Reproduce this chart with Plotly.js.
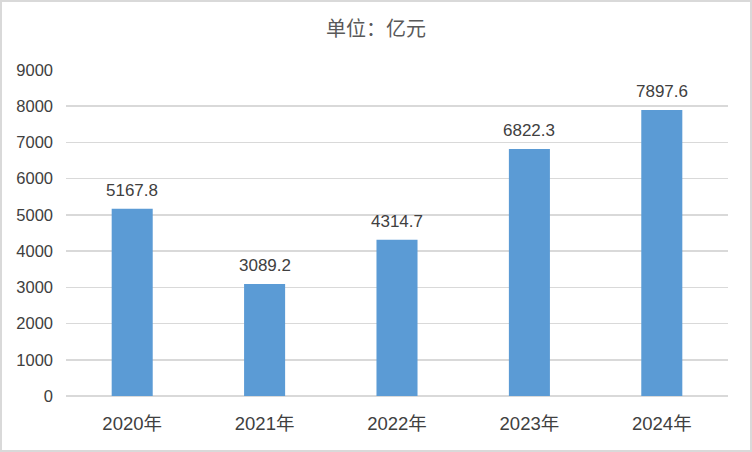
<!DOCTYPE html>
<html>
<head>
<meta charset="utf-8">
<script src="https://cdn.plot.ly/plotly-3.0.1.min.js"></script>
<style>
html,body{margin:0;padding:0;background:#fff;}
#chart{width:752px;height:452px;box-sizing:border-box;border:2px solid #d9d9d9;}
</style>
</head>
<body>
<div id="chart"></div>
<script>
const categories = ["2020年", "2021年", "2022年", "2023年", "2024年"];
const values = [5167.8, 3089.2, 4314.7, 6822.3, 7897.6];
const yTicks = [0, 1000, 2000, 3000, 4000, 5000, 6000, 7000, 8000, 9000];
const titleText = "单位：亿元";

const fontFam = "Liberation Sans, Arial, Noto Sans CJK SC, sans-serif";
const cjkFam = "Noto Sans CJK SC, sans-serif";
const textColor = "#404040";

const trace = {
  type: "bar",
  x: categories,
  y: values,
  marker: {color: "#5b9bd5"},
  hoverinfo: "none"
};

const annotations = categories.map((c, i) => ({
  x: c, y: values[i], xref: "x", yref: "y",
  text: values[i].toFixed(1),
  showarrow: false, yanchor: "bottom", yshift: 7,
  font: {family: fontFam, size: 17, color: textColor}
}));

const layout = {
  width: 748, height: 448,
  margin: {l: 64, r: 22, t: 68, b: 54},
  paper_bgcolor: "#fff", plot_bgcolor: "#fff",
  title: {text: titleText, x: 0.5, xanchor: "center", y: 0.94, yanchor: "middle",
          font: {family: cjkFam, size: 20, color: "#595959"}},
  bargap: 0.69,
  showlegend: false,
  xaxis: {
    type: "category",
    tickfont: {family: fontFam, size: 18.5, color: textColor},
    showgrid: false, showline: false, ticks: "", ticklabelstandoff: 14
  },
  yaxis: {
    range: [0, 9000],
    tickvals: yTicks,
    ticktext: yTicks.map(String),
    tickfont: {family: fontFam, size: 16.5, color: textColor},
    showgrid: true, gridcolor: "#d9d9d9", gridwidth: 1.5,
    zeroline: true, zerolinecolor: "#d9d9d9", zerolinewidth: 1.5,
    showline: false, ticks: "", ticklabelstandoff: 12
  },
  annotations: annotations
};

Plotly.newPlot("chart", [trace], layout, {displayModeBar: false, staticPlot: true});
</script>
</body>
</html>
